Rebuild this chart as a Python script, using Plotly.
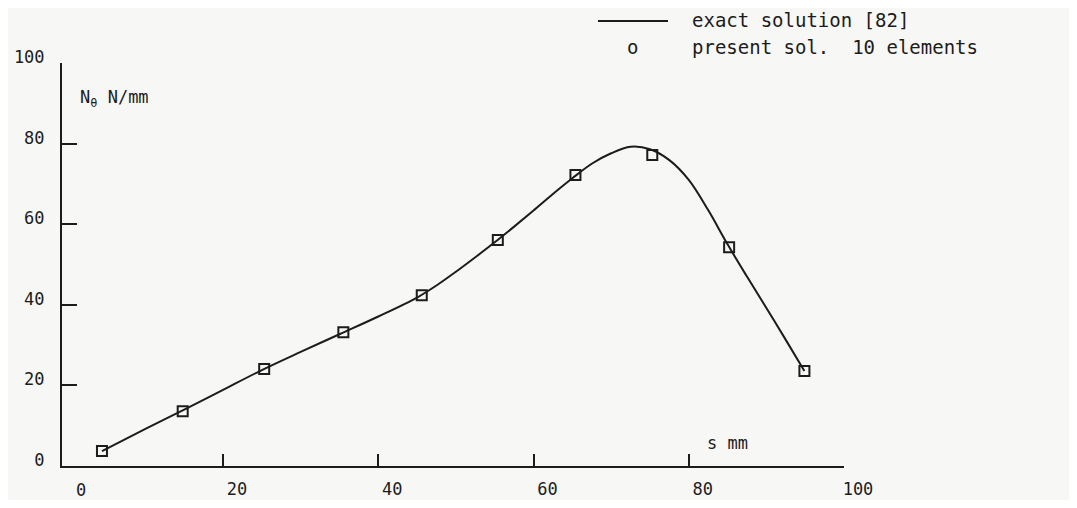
import plotly.graph_objects as go

# exact solution curve
exact_s = [4.4, 10, 15, 20, 25, 30, 35, 40, 45, 47.5, 50, 52.5, 55, 57.5, 60, 62.5, 65,
           67.5, 70, 72.5, 75, 77.5, 80, 82.5, 85, 87.5, 90, 92.5, 94.9]
exact_n = [3.7, 9.2, 14.0, 18.9, 23.8, 28.3, 32.7, 37.1, 41.8, 44.8, 48.2, 51.8, 55.5, 59.4,
           63.4, 67.5, 71.4, 75.0, 77.6, 79.2, 78.6, 75.9, 71.0, 63.5, 55.0, 47.0, 39.2,
           31.3, 23.6]

# present solution, 10 elements
fe_s = [4.4, 14.8, 25.3, 35.5, 45.6, 55.4, 65.4, 75.3, 85.2, 94.9]
fe_n = [3.7, 13.6, 24.1, 33.2, 42.4, 56.1, 72.2, 77.2, 54.3, 23.6]

x_ticks = [20, 40, 60, 80, 100]
y_ticks = [0, 20, 40, 60, 80, 100]

INK = "#1c1c1c"
BG = "#f7f7f6"
FONT = "DejaVu Sans Mono"
FS = 17

# page body has an 8px margin: figure is sized to fit inside the viewport
OFF = 8
W, H = 1077 - 2 * OFF, 508 - 2 * OFF
# plot area in screen pixels
L, R, T, B = 62, 844, 63, 466
pw, ph = R - L, B - T

def px(x):
    return (x - L) / pw

def py(y):
    return (B - y) / ph

fig = go.Figure()
fig.add_trace(go.Scatter(x=exact_s, y=exact_n, mode="lines",
                         line=dict(color=INK, width=2, shape="spline", smoothing=1.0),
                         showlegend=False, hoverinfo="skip"))
fig.add_trace(go.Scatter(x=fe_s, y=fe_n, mode="markers",
                         marker=dict(symbol="square-open", size=10, color=INK,
                                     line=dict(width=2, color=INK)),
                         showlegend=False))

def ann(text, x, y, xanchor="left", size=FS, **kw):
    return dict(text=text, x=x, y=y, xref="paper", yref="paper", showarrow=False,
                xanchor=xanchor, yanchor="middle",
                font=dict(family=FONT, size=size, color=INK), **kw)

axis_common = dict(ticks="inside", tickwidth=2, tickcolor=INK, showline=True,
                   linecolor=INK, linewidth=2, showgrid=False, zeroline=False,
                   automargin=False, tickfont=dict(family=FONT, size=FS, color=INK))

fig.update_layout(
    width=W, height=H,
    margin=dict(l=L - OFF, r=W - (R - OFF), t=T - OFF, b=H - (B - OFF), pad=0),
    paper_bgcolor=BG, plot_bgcolor=BG,
    font=dict(family=FONT, size=FS, color=INK),
    xaxis=dict(range=[-0.75, 100], tickvals=x_ticks, ticklen=12,
               ticklabelshift=14, ticklabelstandoff=7, **axis_common),
    yaxis=dict(range=[0, 100], tickvals=y_ticks, ticklen=15,
               ticklabelshift=-6, ticklabelstandoff=12, **axis_common),
    shapes=[dict(type="line", xref="paper", yref="paper",
                 x0=px(598), x1=px(668), y0=py(21), y1=py(21),
                 line=dict(color=INK, width=2))],
    annotations=[
        dict(text="0", x=0, y=0, xref="x", yref="paper", xshift=13, yshift=-24,
             showarrow=False, xanchor="center", yanchor="middle",
             font=dict(family=FONT, size=FS, color=INK)),
        ann("exact solution [82]", px(690), py(20), size=19),
        ann("o", px(632), py(47), xanchor="center", size=19),
        ann("present sol.  10 elements", px(690), py(47), size=19),
        ann("N<sub>θ</sub> N/mm", px(78), py(98)),
        ann("s mm", px(705), py(443)),
    ],
)

fig.write_html("out.html")
